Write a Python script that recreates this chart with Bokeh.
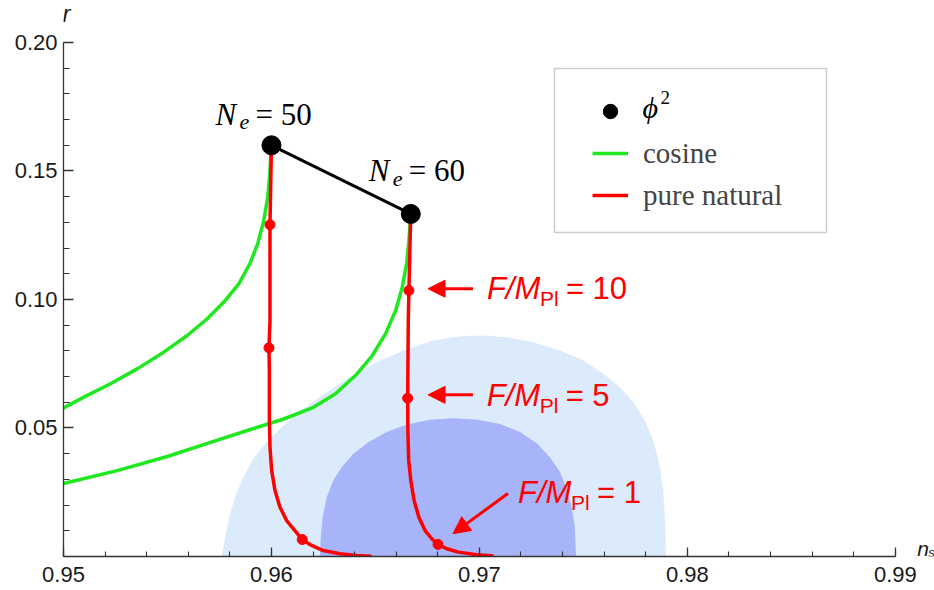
from bokeh.plotting import figure
from bokeh.models import (Label, Arrow, NormalHead, FixedTicker, NumeralTickFormatter,
                          Legend, LegendItem, BoxAnnotation, Range1d)
from bokeh.embed import file_html
from bokeh.resources import INLINE

# ---------------- data ----------------
# phi^2 predictions (N_e = 50, 60)
phi2_ns = [0.9600, 0.9667]
phi2_r = [0.1600, 0.1333]

# cosine (natural) inflation, N_e = 50 and 60
cos50_ns = [0.9600, 0.95992, 0.95982, 0.95963, 0.95934, 0.95896, 0.95843, 0.95771, 0.95691,
            0.95595, 0.95482, 0.95354, 0.95226, 0.95098, 0.94994]
cos50_r = [0.1600, 0.1489, 0.1398, 0.1307, 0.1217, 0.1139, 0.1061, 0.0990, 0.0925,
           0.0860, 0.0795, 0.0730, 0.0672, 0.0620, 0.0575]
cos60_ns = [0.9667, 0.96661, 0.96650, 0.96629, 0.96597, 0.96549, 0.96485, 0.96404, 0.96308,
            0.96196, 0.96059, 0.95899, 0.95707, 0.95499, 0.95258, 0.94994]
cos60_r = [0.1333, 0.1230, 0.1139, 0.1048, 0.0957, 0.0867, 0.0782, 0.0704, 0.0633,
           0.0578, 0.0535, 0.0494, 0.0444, 0.0389, 0.0334, 0.0283]

# pure natural inflation, N_e = 50 and 60
pn50_ns = [0.9600, 0.95993, 0.95993, 0.95988, 0.95990, 0.95990, 0.95993, 0.96001, 0.96017,
           0.96041, 0.96073, 0.96113, 0.96148, 0.96193, 0.96249, 0.96329, 0.96409, 0.96481]
pn50_r = [0.1600, 0.1291, 0.0918, 0.0812, 0.0724, 0.0529, 0.0425, 0.0335, 0.0257,
          0.0192, 0.0140, 0.0101, 0.0066, 0.0043, 0.0023, 0.0011, 0.0004, 0.0001]
pn60_ns = [0.9667, 0.96661, 0.96658, 0.96655, 0.96656, 0.96660, 0.96670, 0.96686, 0.96709,
           0.96739, 0.96771, 0.96801, 0.96843, 0.96899, 0.96988, 0.97068]
pn60_r = [0.1333, 0.1035, 0.0918, 0.0616, 0.0490, 0.0374, 0.0296, 0.0218, 0.0153,
          0.0101, 0.0069, 0.0047, 0.0030, 0.0017, 0.0007, 0.0002]

# marked points F/M_Pl = 10, 5, 1
fm_labels = ["10", "5", "1"]
dots50_ns = [0.95993, 0.95988, 0.96148]
dots50_r = [0.1291, 0.0812, 0.0066]
dots60_ns = [0.96661, 0.96655, 0.96801]
dots60_r = [0.1035, 0.0616, 0.0047]

# Planck contours (95% and 68%)
c95_ns = [0.95761, 0.95777, 0.95797, 0.95825, 0.95865, 0.95913, 0.95977, 0.96057, 0.96153,
          0.96266, 0.96378, 0.96506, 0.96634, 0.96778, 0.96907, 0.97019, 0.97131, 0.97259,
          0.97388, 0.97500, 0.97596, 0.97676, 0.97740, 0.97796, 0.97836, 0.97865, 0.97884,
          0.97893, 0.97896]
c95_r = [0.0, 0.0075, 0.0153, 0.0231, 0.0309, 0.0381, 0.0446, 0.0510, 0.0575,
         0.0639, 0.0698, 0.0756, 0.0802, 0.0840, 0.0857, 0.0860, 0.0853, 0.0834,
         0.0802, 0.0763, 0.0711, 0.0659, 0.0600, 0.0529, 0.0451, 0.0360, 0.0257,
         0.0140, 0.0]
c68_ns = [0.96233, 0.96237, 0.96246, 0.96266, 0.96297, 0.96338, 0.96394, 0.96466, 0.96554,
          0.96651, 0.96762, 0.96874, 0.96987, 0.97099, 0.97195, 0.97276, 0.97339, 0.97388,
          0.97420, 0.97444, 0.97459, 0.97465]
c68_r = [0.0, 0.0075, 0.0153, 0.0231, 0.0296, 0.0348, 0.0400, 0.0445, 0.0484,
         0.0514, 0.0532, 0.0538, 0.0533, 0.0516, 0.0484, 0.0441, 0.0386, 0.0328,
         0.0263, 0.0192, 0.0114, 0.0]

x_ticks = [0.95, 0.96, 0.97, 0.98, 0.99]
y_ticks = [0.05, 0.10, 0.15, 0.20]

GREEN = "#1FE81F"
RED = "#FF0000"
SANS = "Liberation Sans"
SERIF = "Liberation Serif"

# ---------------- figure ----------------
# frame runs to the right and top canvas edges so that the axis names (r, n_s) are visible;
# the axis lines themselves are bounded to the data window.
p = figure(width=934, height=590, output_backend="svg", toolbar_location=None,
           x_range=Range1d(0.95, 0.991885), y_range=Range1d(0.0, 0.21634),
           min_border_left=63, min_border_right=0, min_border_top=0, min_border_bottom=34)
p.grid.visible = False
p.outline_line_color = None
p.background_fill_color = "white"

p.patch(c95_ns, c95_r, fill_color="#DCEBFC", line_color=None)
p.patch(c68_ns, c68_r, fill_color="#A7B4F9", line_color=None)

g50 = p.line(cos50_ns, cos50_r, line_color=GREEN, line_width=3.5)
p.line(cos60_ns, cos60_r, line_color=GREEN, line_width=3.5)

r50 = p.line(pn50_ns, pn50_r, line_color=RED, line_width=3.5)
p.line(pn60_ns, pn60_r, line_color=RED, line_width=3.5)
p.scatter(dots50_ns, dots50_r, size=10, color=RED)
p.scatter(dots60_ns, dots60_r, size=10, color=RED)

p.line(phi2_ns, phi2_r, line_color="black", line_width=3)
phi = p.scatter(phi2_ns, phi2_r, size=19, color="black")

# ---------------- axes ----------------
xminor = [0.95 + 0.002 * i for i in range(21)]
yminor = [0.01 * i for i in range(1, 21)]
p.xaxis.ticker = FixedTicker(ticks=x_ticks, minor_ticks=xminor)
p.yaxis.ticker = FixedTicker(ticks=y_ticks, minor_ticks=yminor)
p.xaxis.bounds = (0.95, 0.99)
p.yaxis.bounds = (0.0, 0.20)
for ax in (p.xaxis, p.yaxis):
    ax.formatter = NumeralTickFormatter(format="0.00")
    ax.axis_line_color = "#333333"
    ax.axis_line_width = 1.3
    ax.major_tick_line_color = "#333333"
    ax.minor_tick_line_color = "#333333"
    ax.major_tick_line_width = 1.3
    ax.minor_tick_line_width = 1.1
    ax.major_tick_out = 0
    ax.minor_tick_out = 0
    ax.major_label_text_font = SANS
    ax.major_label_text_font_size = "22px"
    ax.major_label_text_color = "#1a1a1a"
p.xaxis.major_tick_in = 9
p.xaxis.minor_tick_in = 5
p.yaxis.major_tick_in = 10
p.yaxis.minor_tick_in = 6
p.xaxis.major_label_standoff = 10
p.yaxis.major_label_standoff = 6


def lab(x, y, text, dx, dy, size, font, style="normal", color="black", align="left"):
    # dy is the wanted baseline height above the anchor; lift by the font descent
    p.add_layout(Label(x=x, y=y, x_offset=dx, y_offset=dy + 0.32 * size, text=text,
                       text_font=font, text_font_size=f"{size}px", text_font_style=style,
                       text_color=color, text_baseline="alphabetic", text_align=align))


# axis titles
lab(0.95, 0.20, "r", 3, 21, 24, SANS, "italic", "#1a1a1a", "center")
lab(0.99, 0.0, "n", 22, 1, 21, SANS, "italic", "#1a1a1a")
lab(0.99, 0.0, "s", 33, 0, 13, SANS, "italic", "#1a1a1a")

# N_e labels
for (ns, r, num, dx, dy) in [(phi2_ns[0], phi2_r[0], "50", -56, 21),
                             (phi2_ns[1], phi2_r[1], "60", -42, 33)]:
    lab(ns, r, "N", dx, dy, 31, SERIF, "italic")
    lab(ns, r, "e", dx + 24, dy - 5, 22, SERIF, "italic")
    lab(ns, r, "= " + num, dx + 40, dy, 31, SERIF)

# F/M_Pl labels
fm_offsets = [(78, -8), (79, -7), (80, 42)]
for (ns, r, txt, (dx, dy)) in zip(dots60_ns, dots60_r, fm_labels, fm_offsets):
    lab(ns, r, "F/M", dx, dy, 31, SANS, "italic", RED)
    lab(ns, r, "Pl", dx + 53, dy - 7, 21, SANS, "normal", RED)
    lab(ns, r, "= " + txt, dx + 79, dy, 31, SANS, "normal", RED)

# arrows
arrows = [((0.96969, 0.1042), (0.96753, 0.1042)),
          ((0.96969, 0.0629), (0.96753, 0.0629)),
          ((0.97137, 0.0245), (0.96873, 0.0089))]
for (xs, ys), (xe, ye) in arrows:
    p.add_layout(Arrow(end=NormalHead(size=17, fill_color=RED, line_color=RED),
                       x_start=xs, y_start=ys, x_end=xe, y_end=ye,
                       line_color=RED, line_width=3))

# legend box
box_l, box_r, box_b, box_t = 0.97361, 0.98669, 0.12607, 0.18988
p.add_layout(BoxAnnotation(left=box_l, right=box_r, bottom=box_b, top=box_t,
                           fill_color="white", fill_alpha=1.0,
                           line_color="#555555", line_width=1.5))
legend = Legend(items=[LegendItem(label=" ", renderers=[phi]),
                       LegendItem(label="cosine", renderers=[g50]),
                       LegendItem(label="pure natural", renderers=[r50])],
                location=(529, 343), orientation="vertical", padding=0, margin=0,
                spacing=6, glyph_width=36, glyph_height=36, label_height=36,
                label_standoff=15, label_text_font=SERIF, label_text_font_size="29px",
                border_line_alpha=0, background_fill_alpha=0)
p.add_layout(legend)
# italic phi with superscript 2 for the first legend entry
lab(box_l, box_t, "ϕ", 88, -49, 30, SERIF, "italic")
lab(box_l, box_t, "2", 106, -35, 19, SERIF)

open("out.html", "w").write(file_html(p, INLINE))
